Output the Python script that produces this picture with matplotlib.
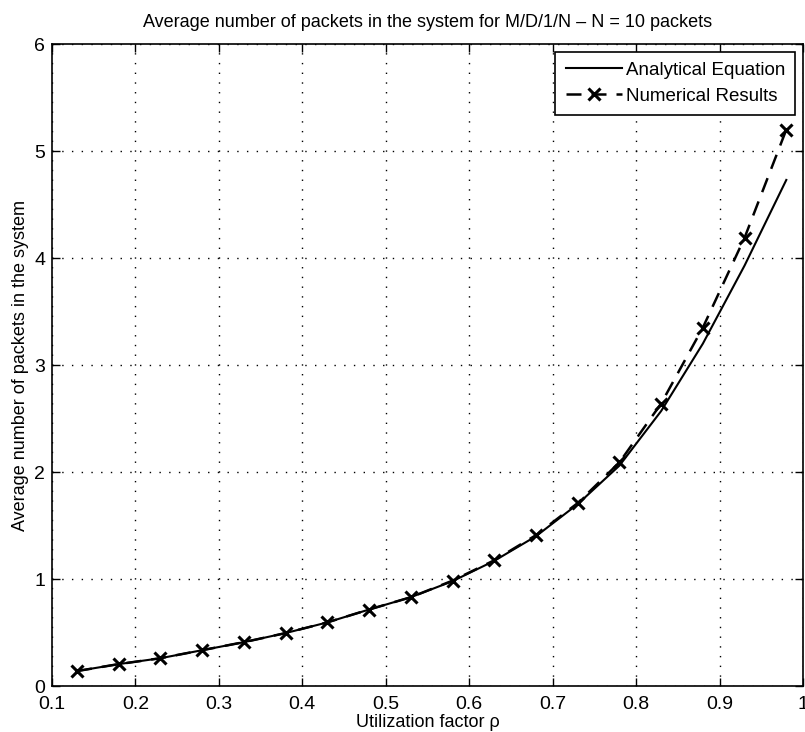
import numpy as np
import matplotlib.pyplot as plt

plt.rcParams['font.family'] = ['Liberation Sans', 'DejaVu Sans']

# utilization factor rho
rho = [0.13, 0.18, 0.23, 0.28, 0.33, 0.38, 0.43, 0.48, 0.53,
       0.58, 0.63, 0.68, 0.73, 0.78, 0.83, 0.88, 0.93, 0.98]
# analytical equation
analytical = [0.14, 0.205, 0.26, 0.335, 0.41, 0.495, 0.595, 0.715, 0.83,
              0.98, 1.17, 1.40, 1.70, 2.06, 2.57, 3.20, 3.93, 4.73]
# numerical (simulation) results
numerical = [0.14, 0.205, 0.26, 0.335, 0.41, 0.495, 0.595, 0.715, 0.83,
             0.985, 1.175, 1.41, 1.71, 2.09, 2.64, 3.35, 4.19, 5.20]

xticks = [0.1, 0.2, 0.3, 0.4, 0.5, 0.6, 0.7, 0.8, 0.9, 1]
xticklabels = ['0.1', '0.2', '0.3', '0.4', '0.5', '0.6', '0.7', '0.8', '0.9', '1']
yticks = [0, 1, 2, 3, 4, 5, 6]

fig = plt.figure(figsize=(8.05, 7.32), dpi=100)
ax = fig.add_axes([0.0646, 0.0628, 0.9329, 0.8770])

ax.plot(rho, analytical, 'k-', lw=1.5, label='Analytical Equation')
ax.plot(rho, numerical, 'k--', lw=1.8, marker='x', ms=8.5, mew=2.2,
        dashes=(6, 4), label='Numerical Results')

ax.set_xlim(0.1, 1)
ax.set_ylim(0, 6)
ax.set_xticks(xticks)
ax.set_xticklabels(xticklabels)
ax.set_yticks(yticks)
ax.tick_params(direction='in', top=True, right=True, labelsize=14, length=6, width=1)
ax.tick_params(axis='x', pad=7)
ax.tick_params(axis='y', pad=5)
ax.grid(True, color='k', linestyle=(0, (1, 6)), linewidth=1)
for s in ax.spines.values():
    s.set_linewidth(1.2)

ax.set_title('Average number of packets in the system for M/D/1/N \u2013 N = 10 packets',
             fontsize=13, pad=12)
ax.set_xlabel('Utilization factor \u03c1', fontsize=13, labelpad=1)
ax.set_ylabel('Average number of packets in the system', fontsize=13, labelpad=4)

leg = ax.legend(loc='upper right', fontsize=13.5, frameon=True, fancybox=False,
                edgecolor='k', framealpha=1, borderaxespad=0.4, handlelength=3.0,
                handletextpad=0.2, borderpad=0.55, labelspacing=0.45)
leg.get_frame().set_linewidth(1.2)

fig.savefig('out.png', dpi=100)
